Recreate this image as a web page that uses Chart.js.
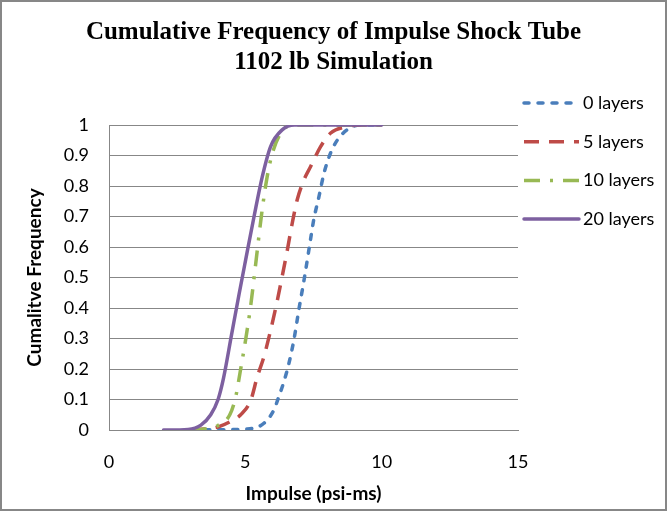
<!DOCTYPE html>
<html>
<head>
<meta charset="utf-8">
<script src="https://cdn.jsdelivr.net/npm/chart.js@4/dist/chart.umd.min.js"></script>
<style>
    html, body { margin: 0; padding: 0; background: #fff; }
    #wrap {
        width: 667px;
        height: 511px;
        box-sizing: border-box;
        border: 2px solid #878787;
    }
    canvas { display: block; }
</style>
</head>
<body>
<div id="wrap"><canvas id="cdf-chart" width="663" height="507"></canvas></div>
<script>
// cumulative frequency vs impulse (psi-ms)
const LABELS = ['0 layers', '5 layers', '10 layers', '20 layers'];

const impulse0 = [3, 4, 5, 5.3, 5.68, 6.05, 6.23, 6.42, 6.6, 6.78, 6.96, 7.15, 7.33, 7.51, 7.7, 7.88, 8.12, 8.37, 8.73, 9.22, 10];
const cumFreq0 = [0, 0.001, 0.003, 0.006, 0.022, 0.066, 0.11, 0.16, 0.219, 0.295, 0.393, 0.49, 0.59, 0.69, 0.765, 0.84, 0.907, 0.95, 0.984, 1, 1];

const impulse5 = [3, 3.5, 4, 4.5, 4.83, 5.2, 5.44, 5.68, 5.93, 6.15, 6.35, 6.54, 6.72, 6.9, 7.15, 7.39, 7.76, 8.12, 8.73, 9.2, 10];
const cumFreq5 = [0, 0.003, 0.01, 0.03, 0.05, 0.098, 0.175, 0.24, 0.328, 0.415, 0.503, 0.59, 0.678, 0.754, 0.82, 0.863, 0.929, 0.973, 0.995, 1, 1];

const impulse10 = [3, 3.5, 4, 4.43, 4.65, 4.81, 5, 5.2, 5.4, 5.6, 5.8, 6, 6.35, 6.8, 10];
const cumFreq10 = [0, 0.003, 0.015, 0.05, 0.11, 0.19, 0.29, 0.41, 0.56, 0.71, 0.83, 0.91, 0.98, 1, 1];

const impulse20 = [2, 2.9, 3.37, 3.73, 4.0, 4.2, 4.5, 4.77, 5.01, 5.32, 5.62, 5.93, 6.35, 6.8, 10];
const cumFreq20 = [0, 0.002, 0.016, 0.05, 0.1, 0.17, 0.315, 0.445, 0.557, 0.7, 0.83, 0.93, 0.984, 1, 1];

const xTicks = [0, 5, 10, 15];
const yTicks = [0, 0.1, 0.2, 0.3, 0.4, 0.5, 0.6, 0.7, 0.8, 0.9, 1];

const COLORS = ['#4a7ebb', '#be4b48', '#98b954', '#7d60a0'];
const DASHES = [[5, 9], [15, 10], [16, 10, 3, 10], []];
const CAPS = ['round', 'butt', 'butt', 'round'];
const GRID = '#878787';
const SANS = 'Lato, "Open Sans", sans-serif';

function toPoints(xs, ys) {
    return xs.map((x, i) => ({ x: x, y: ys[i] }));
}

const seriesX = [impulse0, impulse5, impulse10, impulse20];
const seriesY = [cumFreq0, cumFreq5, cumFreq10, cumFreq20];

const datasets = LABELS.map((label, i) => ({
    label: label,
    data: toPoints(seriesX[i], seriesY[i]),
    borderColor: COLORS[i],
    backgroundColor: COLORS[i],
    borderWidth: 3.5,
    borderDash: DASHES[i],
    borderCapStyle: CAPS[i],
    pointRadius: 0,
    showLine: true,
    cubicInterpolationMode: 'monotone',
    order: LABELS.length - i
}));

// Excel-style legend in the space kept free on the right
const sideLegend = {
    id: 'sideLegend',
    afterDraw(chart) {
        const ctx = chart.ctx;
        ctx.save();
        ctx.font = '18px ' + SANS;
        ctx.textBaseline = 'middle';
        ctx.fillStyle = '#000';
        chart.data.datasets.forEach((ds, i) => {
            const y = 101 + i * 38.7;
            ctx.beginPath();
            ctx.strokeStyle = ds.borderColor;
            ctx.lineWidth = ds.borderWidth;
            ctx.lineCap = ds.borderCapStyle;
            ctx.setLineDash(ds.borderDash);
            ctx.moveTo(522, y);
            ctx.lineTo(577, y);
            ctx.stroke();
            ctx.setLineDash([]);
            ctx.fillText(ds.label, 581, y);
        });
        ctx.restore();
    }
};

new Chart(document.getElementById('cdf-chart'), {
    type: 'scatter',
    data: { datasets: datasets },
    options: {
        responsive: false,
        animation: false,
        devicePixelRatio: 1,
        layout: { padding: 0 },
        plugins: {
            legend: { display: false },
            tooltip: { enabled: false },
            title: {
                display: true,
                text: ['Cumulative Frequency of Impulse Shock Tube', '1102 lb Simulation'],
                color: '#000',
                font: { family: '"Liberation Serif", "Times New Roman", serif', size: 25, weight: 'bold', lineHeight: '30px' },
                padding: { top: 16, bottom: 47 }
            }
        },
        scales: {
            x: {
                type: 'linear',
                min: 0,
                max: 15,
                afterBuildTicks: scale => { scale.ticks = xTicks.map(v => ({ value: v })); },
                afterFit: scale => { scale.height = 79; },
                grid: { display: false, drawTicks: false },
                border: { display: true, color: GRID, width: 1 },
                ticks: { color: '#000', padding: 21, font: { family: SANS, size: 18 } },
                title: {
                    display: true,
                    text: 'Impulse (psi-ms)',
                    color: '#000',
                    font: { family: SANS, size: 19, weight: 'bold' },
                    padding: { top: 0, bottom: 4 }
                }
            },
            y: {
                type: 'linear',
                min: 0,
                max: 1,
                afterBuildTicks: scale => { scale.ticks = yTicks.map(v => ({ value: v })); },
                afterFit: scale => { scale.width = 107; },
                grid: { color: GRID, lineWidth: 1, drawTicks: false },
                border: { display: true, color: GRID, width: 1 },
                ticks: {
                    color: '#000',
                    padding: 20,
                    font: { family: SANS, size: 18 },
                    callback: v => String(+v.toFixed(1))
                },
                title: {
                    display: true,
                    text: 'Cumalitve Frequency',
                    color: '#000',
                    font: { family: SANS, size: 19, weight: 'bold' },
                    padding: { top: 21, bottom: 0 }
                }
            },
            // empty axis that only reserves room for the legend on the right
            side: {
                type: 'linear',
                position: 'right',
                min: 0,
                max: 1,
                afterFit: scale => { scale.width = 147; },
                grid: { display: false, drawTicks: false },
                border: { display: false },
                ticks: { display: false }
            }
        }
    },
    plugins: [sideLegend]
});
</script>
</body>
</html>
